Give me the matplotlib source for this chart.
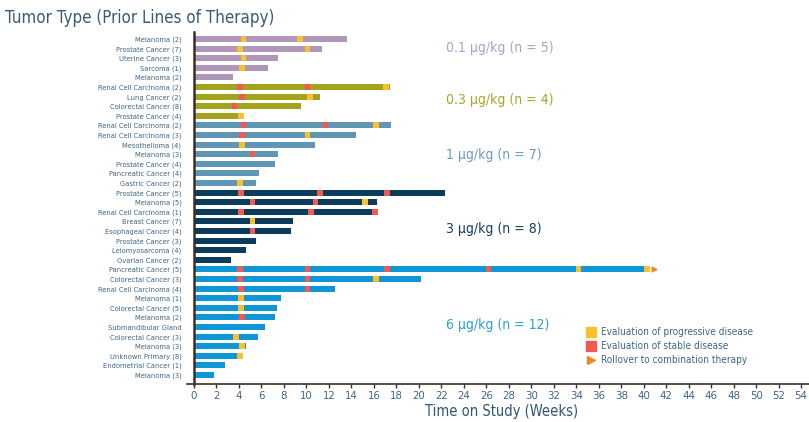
import matplotlib
matplotlib.use('Agg')
from matplotlib import pyplot as plt

plt.rcParams['font.family'] = ['DejaVu Sans']
plt.rcParams['font.stretch'] = 'condensed'

# 肿瘤类型标签（自上而下）
tumors = [
    'Melanoma (2)', 'Prostate Cancer (7)', 'Uterine Cancer (3)', 'Sarcoma (1)', 'Melanoma (2)',
    'Renal Cell Carcinoma (2)', 'Lung Cancer (2)', 'Colorectal Cancer (8)', 'Prostate Cancer (4)',
    'Renal Cell Carcinoma (2)', 'Renal Cell Carcinoma (3)', 'Mesothelioma (4)', 'Melanoma (3)',
    'Prostate Cancer (4)', 'Pancreatic Cancer (4)', 'Gastric Cancer (2)',
    'Prostate Cancer (5)', 'Melanoma (5)', 'Renal Cell Carcinoma (1)', 'Breast Cancer (7)',
    'Esophageal Cancer (4)', 'Prostate Cancer (3)', 'Leiomyosarcoma (4)', 'Ovarian Cancer (2)',
    'Pancreatic Cancer (5)', 'Colorectal Cancer (3)', 'Renal Cell Carcinoma (4)', 'Melanoma (1)',
    'Colorectal Cancer (5)', 'Melanoma (2)', 'Submandibular Gland', 'Colorectal Cancer (3)',
    'Melanoma (3)', 'Unknown Primary (8)', 'Endometrial Cancer (1)', 'Melanoma (3)',
]

# 剂量组，每个病人所属组的序号
dose_labels = ['0.1 µg/kg (n = 5)', '0.3 µg/kg (n = 4)', '1 µg/kg (n = 7)',
               '3 µg/kg (n = 8)', '6 µg/kg (n = 12)']
group = [0] * 5 + [1] * 4 + [2] * 7 + [3] * 8 + [4] * 12

# 研究时间（周）
weeks = [
    13.6, 11.4, 7.5, 6.6, 3.5,
    17.4, 11.2, 9.5, 4.4,
    17.5, 14.4, 10.8, 7.5, 7.2, 5.8, 5.5,
    22.3, 16.3, 16.4, 8.8, 8.6, 5.5, 4.6, 3.3,
    40.6, 20.2, 12.5, 7.7, 7.4, 7.2, 6.3, 5.7, 4.6, 4.4, 2.8, 1.8,
]

# 进展评估（黄）和稳定评估（红）的时间点
progressive = [
    [4.4, 9.4], [4.1, 10.1], [4.4], [4.3], [],
    [17.1], [10.3], [], [4.2],
    [16.2], [10.1], [4.3], [], [], [], [4.1],
    [], [15.2], [], [5.2], [], [], [], [],
    [34.2, 40.3], [16.2], [], [4.2], [4.2], [], [], [3.7], [4.3], [4.1], [], [],
]
stable = [
    [], [], [], [], [],
    [4.1, 10.1], [4.3], [3.6], [],
    [4.4, 11.7], [4.3], [], [5.2], [], [], [],
    [4.2, 11.2, 17.2], [5.2, 10.8], [4.2, 10.4, 16.1], [], [5.2], [], [], [],
    [4.1, 10.1, 17.2, 26.2], [4.1, 10.1], [4.2, 10.1], [], [], [4.3], [], [], [], [], [], [],
]
rollover = [24]  # 转入联合治疗的病人

group_colors = ['#b097b9', '#a1a41c', '#5f96b5', '#0b3c5b', '#0f96d6']
text_colors = ['#b59ec3', '#a4a728', '#6a9cbb', '#14405d', '#2a9fd8']
yellow = '#fdbf2d'
red = '#f05a50'
orange = '#f08a24'
label_color = '#3f6584'


def swimmer_plot():
    fig = plt.figure(figsize=(8.09, 4.22), dpi=100)
    ax = fig.add_axes([0.2398, 0.09, 0.7602, 0.834])

    bar_h = 0.62
    mw = 0.52
    for i, w in enumerate(weeks):
        ax.barh(i, w, height=bar_h, color=group_colors[group[i]], linewidth=0)
        for p in progressive[i]:
            ax.barh(i, mw, left=p - mw / 2, height=bar_h, color=yellow, linewidth=0)
        for s in stable[i]:
            ax.barh(i, mw, left=s - mw / 2, height=bar_h, color=red, linewidth=0)
    for i in rollover:
        ax.plot(weeks[i] + 0.35, i, marker='>', color=orange, markersize=3.5,
                linestyle='none')

    # 剂量组文字
    dose_pos = [0.95, 6.35, 12.1, 19.8, 29.8]
    for k, lab in enumerate(dose_labels):
        ax.text(22.4, dose_pos[k], lab, color=text_colors[k], fontsize=10,
                va='center', ha='left')

    ax.set_xlim(0, 54.7)
    ax.set_ylim(35.94, -0.73)
    ax.set_yticks(range(len(tumors)))
    ax.set_yticklabels(tumors, fontsize=5.4, color=label_color)
    ax.tick_params(axis='y', length=0, pad=9)
    ax.set_xticks(range(0, 55, 2))
    ax.tick_params(axis='x', length=3, width=1, color='#3a3024', labelsize=8.2,
                   labelcolor=label_color, pad=2)
    ax.set_xlabel('Time on Study (Weeks)', fontsize=10.5, color='#2f5673', labelpad=2)

    for side in ['top', 'right']:
        ax.spines[side].set_visible(False)
    ax.spines['left'].set_color('#3a3024')
    ax.spines['left'].set_linewidth(1.8)
    ax.spines['bottom'].set_color('#3a3024')
    ax.spines['bottom'].set_linewidth(1.2)
    ax.spines['bottom'].set_bounds(-0.6, 54.7)

    fig.text(0.006, 0.957, 'Tumor Type (Prior Lines of Therapy)', fontsize=12.2,
             color='#3b5a73', va='center', ha='left')

    # 图例
    lx, ly = 0.727, 0.213
    items = [('s', yellow, 'Evaluation of progressive disease'),
             ('s', red, 'Evaluation of stable disease'),
             ('>', orange, 'Rollover to combination therapy')]
    for k, (m, c, t) in enumerate(items):
        y = ly - k * 0.033
        fig.lines.append(plt.Line2D([lx + 0.004], [y], marker=m, color=c,
                                    markersize=7 if m == 's' else 6,
                                    linestyle='none', transform=fig.transFigure))
        fig.text(lx + 0.016, y, t, fontsize=7.2, color=label_color, va='center')

    fig.savefig('out.png', dpi=100)


if __name__ == '__main__':
    swimmer_plot()
